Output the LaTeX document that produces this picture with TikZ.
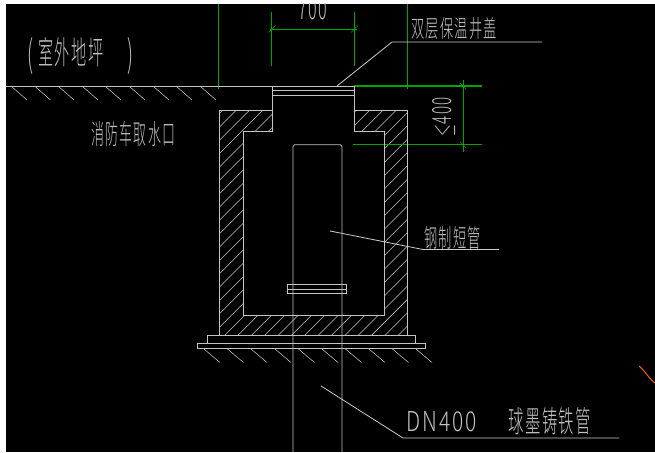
\documentclass[tikz,border=0pt]{standalone}
\usepackage{graphicx}
\usepackage{fontspec}
\newfontfamily\cjk[LetterSpace=10]{Noto Sans CJK SC Light}
\newfontfamily\cjkplain{Noto Sans CJK SC Light}
\setsansfont{Liberation Sans}
\definecolor{cadgreen}{RGB}{0,165,0}
\definecolor{cadgray}{RGB}{195,195,195}
\definecolor{cadorange}{RGB}{230,100,10}
\newcommand{\cadtext}[3]{\resizebox{#1pt}{#2pt}{\cjk #3}}
\tikzset{
  wall/.style={draw=cadgray,line width=0.8pt},
  thin line/.style={draw=cadgray,line width=0.55pt},
  dim/.style={draw=cadgreen,line width=1.1pt},
  label text/.style={text=cadgray,inner sep=0pt,anchor=north west},
  leader/.style={draw=cadgray!85,line width=0.8pt}
}
\begin{document}
\begin{tikzpicture}[x=1pt,y=-1pt]
\useasboundingbox (0,0) rectangle (655,452);
\fill[white] (0,0) rectangle (655,452);
\fill[black] (6,4) rectangle (655,452);
\begin{scope}
\clip (6,4) rectangle (655,452);
% wall hatching
\begin{scope}
\clip (219,110.5) -- (272,110.5) -- (272,131) -- (243,131) -- (243,315) -- (384,315) -- (384,131) -- (354,131) -- (354,110.5) -- (407.5,110.5) -- (407.5,335) -- (219,335) -- cycle;
\foreach \k in {-18,...,14}{
  \pgfmathsetmacro{\c}{560+13.35*\k}
  \draw[thin line] (\c-400,400) -- (\c-100,100);
}
\end{scope}
% green dimensions
\coordinate (gl) at (218.7,4); \coordinate (gla) at (218.7,89);
\coordinate (gr) at (407.3,4); \coordinate (gra) at (407.3,89);
\draw[dim] (gl) -- (gla);
\draw[dim] (gr) -- (gra);
\coordinate (d1a) at (271.7,12); \coordinate (d1b) at (271.7,66);
\coordinate (d2a) at (354.3,12); \coordinate (d2b) at (354.3,66);
\draw[dim] (d1a) -- (d1b);
\draw[dim] (d2a) -- (d2b);
\coordinate (h1) at (270,29.3); \coordinate (h2) at (357,29.3);
\draw[dim] (h1) -- (h2);
\draw[dim,line width=0.6pt] (268.5,32.5) -- (275.5,25.5);
\draw[dim,line width=0.6pt] (351,32.5) -- (358,25.5);
\coordinate (g1) at (354,86); \coordinate (g2) at (482,86);
\draw[dim] (g1) -- (g2);
\coordinate (g3) at (353,144.7); \coordinate (g4) at (482,144.7);
\draw[dim] (g3) -- (g4);
\coordinate (v1) at (463.3,79.5); \coordinate (v2) at (463.3,151.5);
\draw[dim] (v1) -- (v2);
\draw[dim,line width=0.6pt] (460,83) -- (466,89);
\draw[dim,line width=0.6pt] (460,142) -- (466,148);
% ground
\coordinate (ga) at (6,86); \coordinate (gb) at (354,86);
\draw[wall,line width=1pt] (ga) -- (gb);
\foreach \x in {11,34.5,58,82,105,129,153,176,200}{
  \draw[thin line] (\x,86) -- (\x+16,100);
}
% cover
\draw[wall,line width=1pt] (272,90.7) -- (354,90.7);
\draw[wall,line width=1pt] (272,95.7) -- (354,95.7);
% well outline
\draw[wall] (272,86) -- (272,131) -- (243,131) -- (243,315) -- (384,315) -- (384,131) -- (354,131) -- (354,86);
\draw[wall] (272,110.5) -- (219,110.5) -- (219,335) -- (407.5,335) -- (407.5,110.5) -- (354,110.5);
% base
\draw[wall] (207,343) -- (207,335) -- (415,335) -- (415,343);
\draw[wall] (197.5,343) rectangle (425,348.7);
\foreach \x in {204,227.5,251,275,298.5,322,345.5,369,392.5,416}{
  \draw[thin line] (\x,349) -- (\x+16,362.5);
}
% pipe
\draw[wall] (293,452) -- (293,146.5) -- (294.5,144.7) -- (340.5,144.7) -- (342,146.5) -- (342,452);
\draw[wall] (287.7,284.3) rectangle (346.7,293.8);
\draw[thin line] (287.7,289) -- (346.7,289);
% leaders
\coordinate (l1a) at (337,86); \coordinate (l1b) at (392,42); \coordinate (l1c) at (542,42);
\draw[leader] (l1a) -- (l1b) -- (l1c);
\coordinate (l2a) at (330,231); \coordinate (l2b) at (423,249.5); \coordinate (l2c) at (499,249.5);
\draw[leader] (l2a) -- (l2b) -- (l2c);
\coordinate (l3a) at (321,386); \coordinate (l3b) at (403,438); \coordinate (l3c) at (619,438);
\draw[leader] (l3a) -- (l3b) -- (l3c);
% orange fragment
\draw[cadorange,line width=1pt] (639,366) .. controls (646,372) and (650,380) .. (655,383);
% texts
\node[label text] (t700) at (298,-2) {\resizebox{29pt}{21pt}{\cjk 700}};
\node[label text] (tcover) at (411,17) {\cadtext{86}{20}{双层保温井盖}};
\node[label text] (tground) at (38,37) {\cadtext{65}{27}{室外地坪}};
\node[label text] (tpl) at (27,37) {\resizebox{6pt}{30pt}{\cjkplain (}};
\node[label text] (tpr) at (127,37) {\resizebox{6pt}{30pt}{\cjkplain )}};
\node[label text] (tintake) at (91,121) {\cadtext{84}{23}{消防车取水口}};
\node[label text] (tsteel) at (424,226) {\cadtext{57}{21}{钢制短管}};
\node[label text] (tdn) at (406,411) {\resizebox{71pt}{20pt}{\cjk DN400}};
\node[label text] (tiron) at (508,407) {\cadtext{83}{25}{球墨铸铁管}};
\node[inner sep=0pt,text=cadgray,rotate=90] (t400) at (444,116.5) {\resizebox{39pt}{19pt}{\cjk $\leq$400}};
\end{scope}
\end{tikzpicture}
\end{document}
